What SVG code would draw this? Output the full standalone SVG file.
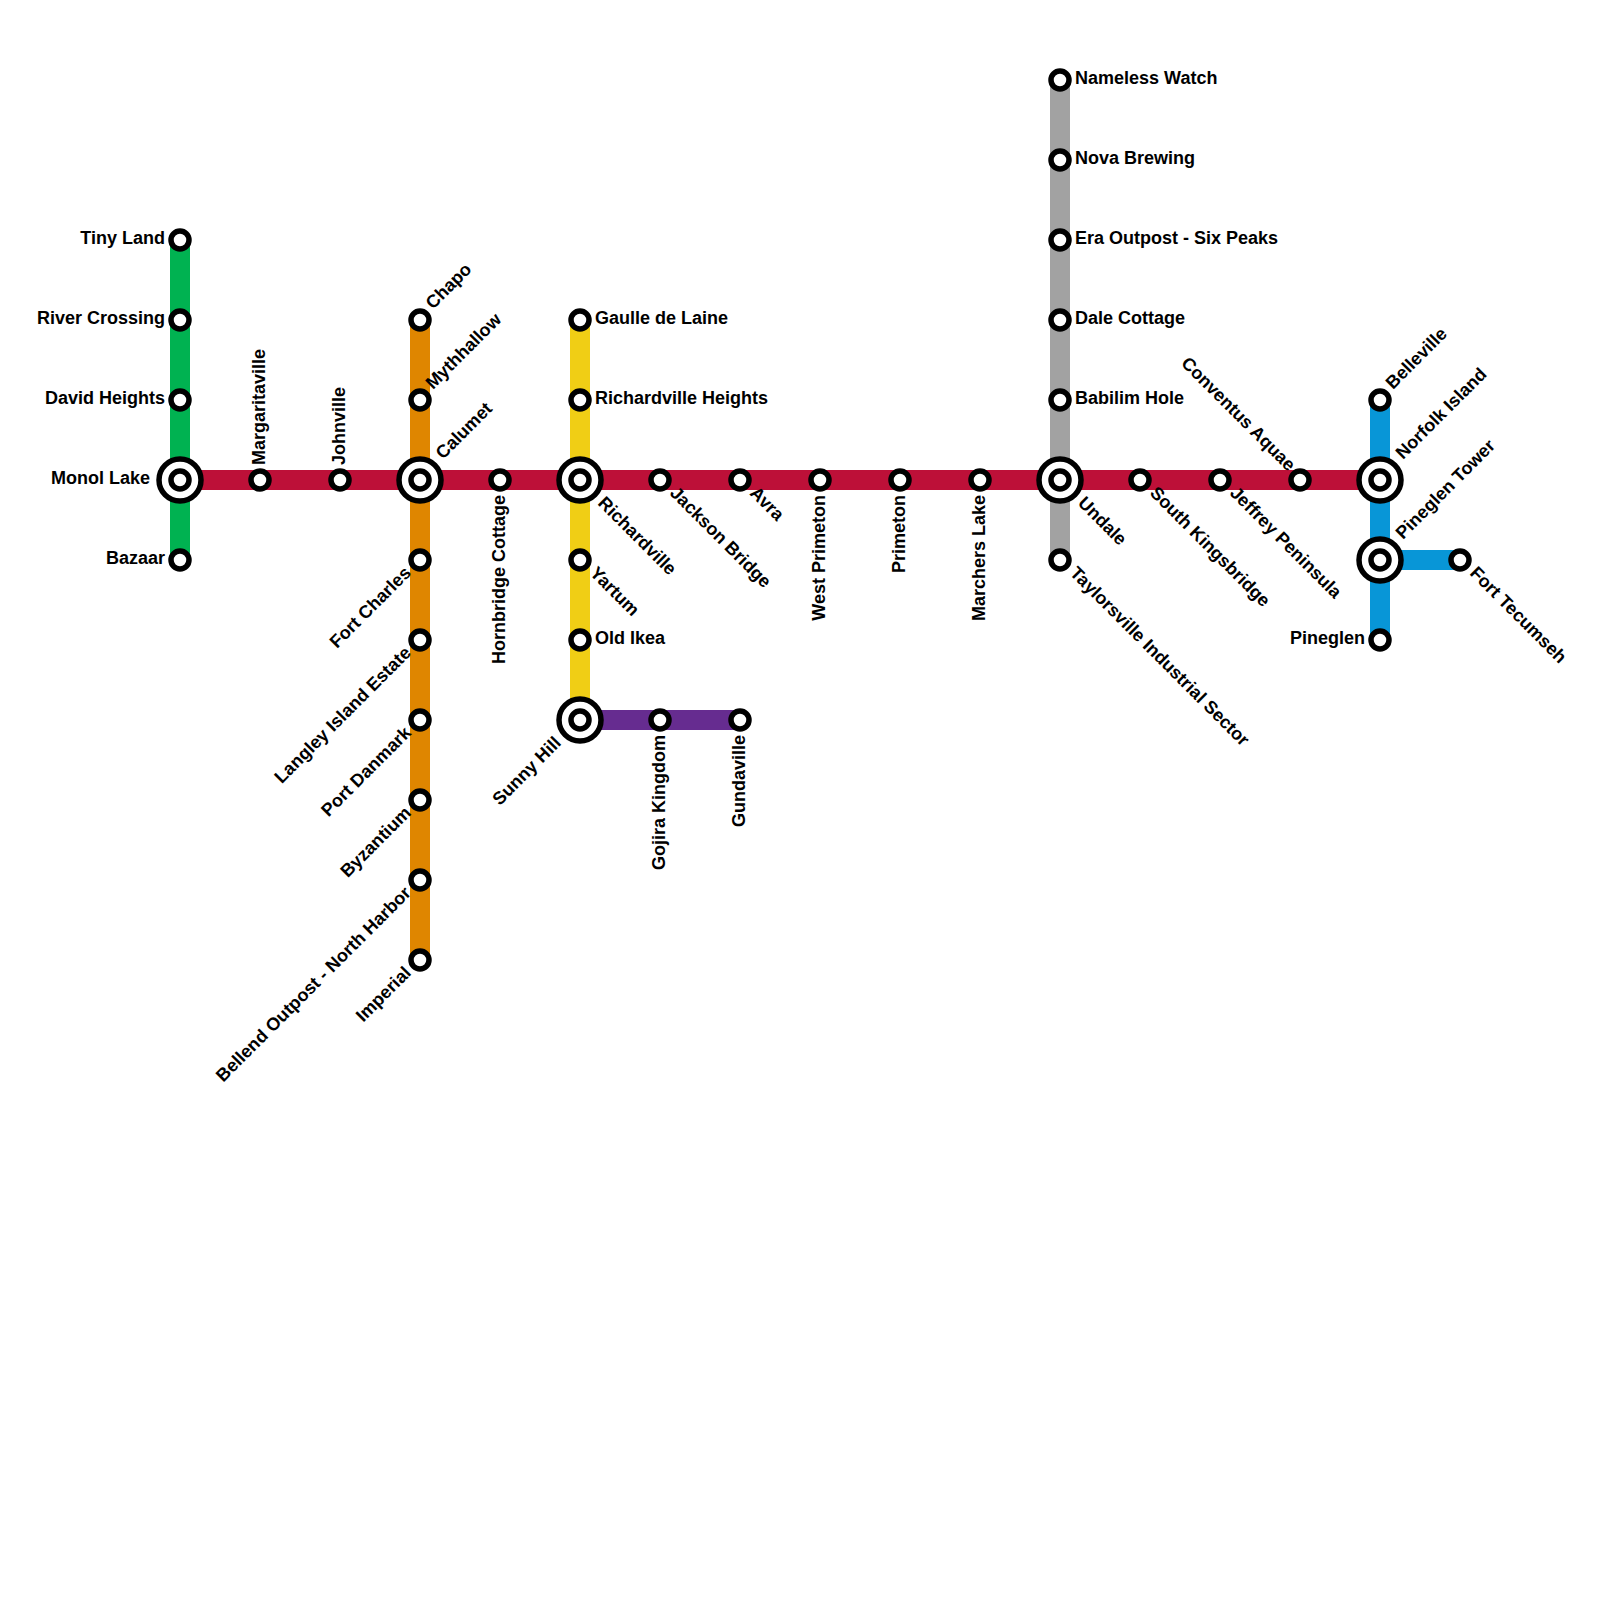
<svg xmlns="http://www.w3.org/2000/svg" width="1600" height="1600" viewBox="0 0 1600 1600">
<style>
text{font-family:"Liberation Sans",Arial,sans-serif;font-weight:700;font-size:18px;fill:#000}
.e{text-anchor:end}
.l{fill:none;stroke-width:20;stroke-linecap:round;stroke-linejoin:round}
.s{fill:#fff;stroke:#000;stroke-width:5.5}
</style>
<defs>
<g id="st"><circle class="s" r="9"/></g>
<g id="ic"><circle class="s" r="21"/><circle class="s" r="9"/></g>
</defs>
<rect width="1600" height="1600" fill="#fff"/>
<g id="connectors">
<path class="l" stroke="#00b251" d="M180 240V560"/>
<path class="l" stroke="#df8600" d="M420 320V960"/>
<path class="l" stroke="#f0ce15" d="M580 320V720"/>
<path class="l" stroke="#a2a2a2" d="M1060 80V560"/>
<path class="l" stroke="#0896d7" d="M1380 400V640M1380 560H1460"/>
<path class="l" stroke="#662c90" d="M580 720H740"/>
<path class="l" stroke="#bd1038" d="M180 480H1380"/>
</g>
<g id="tiny-land"><use href="#st" x="180" y="240"/><text class="e" x="165" y="244">Tiny Land</text></g>
<g id="river-crossing"><use href="#st" x="180" y="320"/><text class="e" x="165" y="324">River Crossing</text></g>
<g id="david-heights"><use href="#st" x="180" y="400"/><text class="e" x="165" y="404">David Heights</text></g>
<g id="monol-lake"><use href="#ic" x="180" y="480"/><text class="e" x="150" y="484">Monol Lake</text></g>
<g id="bazaar"><use href="#st" x="180" y="560"/><text class="e" x="165" y="564">Bazaar</text></g>
<g id="margaritaville"><use href="#st" x="260" y="480"/><text transform="translate(265 465) rotate(-90)">Margaritaville</text></g>
<g id="johnville"><use href="#st" x="340" y="480"/><text transform="translate(345 465) rotate(-90)">Johnville</text></g>
<g id="chapo"><use href="#st" x="420" y="320"/><text transform="translate(433 310) rotate(-45)">Chapo</text></g>
<g id="mythhallow"><use href="#st" x="420" y="400"/><text transform="translate(433 390) rotate(-45)">Mythhallow</text></g>
<g id="calumet"><use href="#ic" x="420" y="480"/><text transform="translate(443 460) rotate(-45)">Calumet</text></g>
<g id="fort-charles"><use href="#st" x="420" y="560"/><text class="e" transform="translate(412 574) rotate(-45)">Fort Charles</text></g>
<g id="langley-island-estate"><use href="#st" x="420" y="640"/><text class="e" transform="translate(412 654) rotate(-45)">Langley Island Estate</text></g>
<g id="port-danmark"><use href="#st" x="420" y="720"/><text class="e" transform="translate(412 734) rotate(-45)">Port Danmark</text></g>
<g id="byzantium"><use href="#st" x="420" y="800"/><text class="e" transform="translate(412 814) rotate(-45)">Byzantium</text></g>
<g id="bellend-outpost"><use href="#st" x="420" y="880"/><text class="e" transform="translate(412 894) rotate(-45)">Bellend Outpost - North Harbor</text></g>
<g id="imperial"><use href="#st" x="420" y="960"/><text class="e" transform="translate(412 974) rotate(-45)">Imperial</text></g>
<g id="hornbridge-cottage"><use href="#st" x="500" y="480"/><text class="e" transform="translate(505 495) rotate(-90)">Hornbridge Cottage</text></g>
<g id="gaulle-de-laine"><use href="#st" x="580" y="320"/><text x="595" y="324">Gaulle de Laine</text></g>
<g id="richardville-heights"><use href="#st" x="580" y="400"/><text x="595" y="404">Richardville Heights</text></g>
<g id="richardville"><use href="#ic" x="580" y="480"/><text transform="translate(597 504) rotate(45)">Richardville</text></g>
<g id="yartum"><use href="#st" x="580" y="560"/><text transform="translate(589 574) rotate(45)">Yartum</text></g>
<g id="old-ikea"><use href="#st" x="580" y="640"/><text x="595" y="644">Old Ikea</text></g>
<g id="sunny-hill"><use href="#ic" x="580" y="720"/><text class="e" transform="translate(562 744) rotate(-45)">Sunny Hill</text></g>
<g id="gojira-kingdom"><use href="#st" x="660" y="720"/><text class="e" transform="translate(665 735) rotate(-90)">Gojira Kingdom</text></g>
<g id="gundaville"><use href="#st" x="740" y="720"/><text class="e" transform="translate(745 735) rotate(-90)">Gundaville</text></g>
<g id="jackson-bridge"><use href="#st" x="660" y="480"/><text transform="translate(669 494) rotate(45)">Jackson Bridge</text></g>
<g id="avra"><use href="#st" x="740" y="480"/><text transform="translate(749 494) rotate(45)">Avra</text></g>
<g id="west-primeton"><use href="#st" x="820" y="480"/><text class="e" transform="translate(825 495) rotate(-90)">West Primeton</text></g>
<g id="primeton"><use href="#st" x="900" y="480"/><text class="e" transform="translate(905 495) rotate(-90)">Primeton</text></g>
<g id="marchers-lake"><use href="#st" x="980" y="480"/><text class="e" transform="translate(985 495) rotate(-90)">Marchers Lake</text></g>
<g id="nameless-watch"><use href="#st" x="1060" y="80"/><text x="1075" y="84">Nameless Watch</text></g>
<g id="nova-brewing"><use href="#st" x="1060" y="160"/><text x="1075" y="164">Nova Brewing</text></g>
<g id="era-outpost"><use href="#st" x="1060" y="240"/><text x="1075" y="244">Era Outpost - Six Peaks</text></g>
<g id="dale-cottage"><use href="#st" x="1060" y="320"/><text x="1075" y="324">Dale Cottage</text></g>
<g id="babilim-hole"><use href="#st" x="1060" y="400"/><text x="1075" y="404">Babilim Hole</text></g>
<g id="undale"><use href="#ic" x="1060" y="480"/><text transform="translate(1077 504) rotate(45)">Undale</text></g>
<g id="taylorsville"><use href="#st" x="1060" y="560"/><text transform="translate(1069 574) rotate(45)">Taylorsville Industrial Sector</text></g>
<g id="south-kingsbridge"><use href="#st" x="1140" y="480"/><text transform="translate(1149 494) rotate(45)">South Kingsbridge</text></g>
<g id="jeffrey-peninsula"><use href="#st" x="1220" y="480"/><text transform="translate(1229 494) rotate(45)">Jeffrey Peninsula</text></g>
<g id="conventus-aquae"><use href="#st" x="1300" y="480"/><text class="e" transform="translate(1288 472) rotate(45)">Conventus Aquae</text></g>
<g id="belleville"><use href="#st" x="1380" y="400"/><text transform="translate(1393 390) rotate(-45)">Belleville</text></g>
<g id="norfolk-island"><use href="#ic" x="1380" y="480"/><text transform="translate(1403 460) rotate(-45)">Norfolk Island</text></g>
<g id="pineglen-tower"><use href="#ic" x="1380" y="560"/><text transform="translate(1403 540) rotate(-45)">Pineglen Tower</text></g>
<g id="pineglen"><use href="#st" x="1380" y="640"/><text class="e" x="1365" y="644">Pineglen</text></g>
<g id="fort-tecumseh"><use href="#st" x="1460" y="560"/><text transform="translate(1469 574) rotate(45)">Fort Tecumseh</text></g>
</svg>
